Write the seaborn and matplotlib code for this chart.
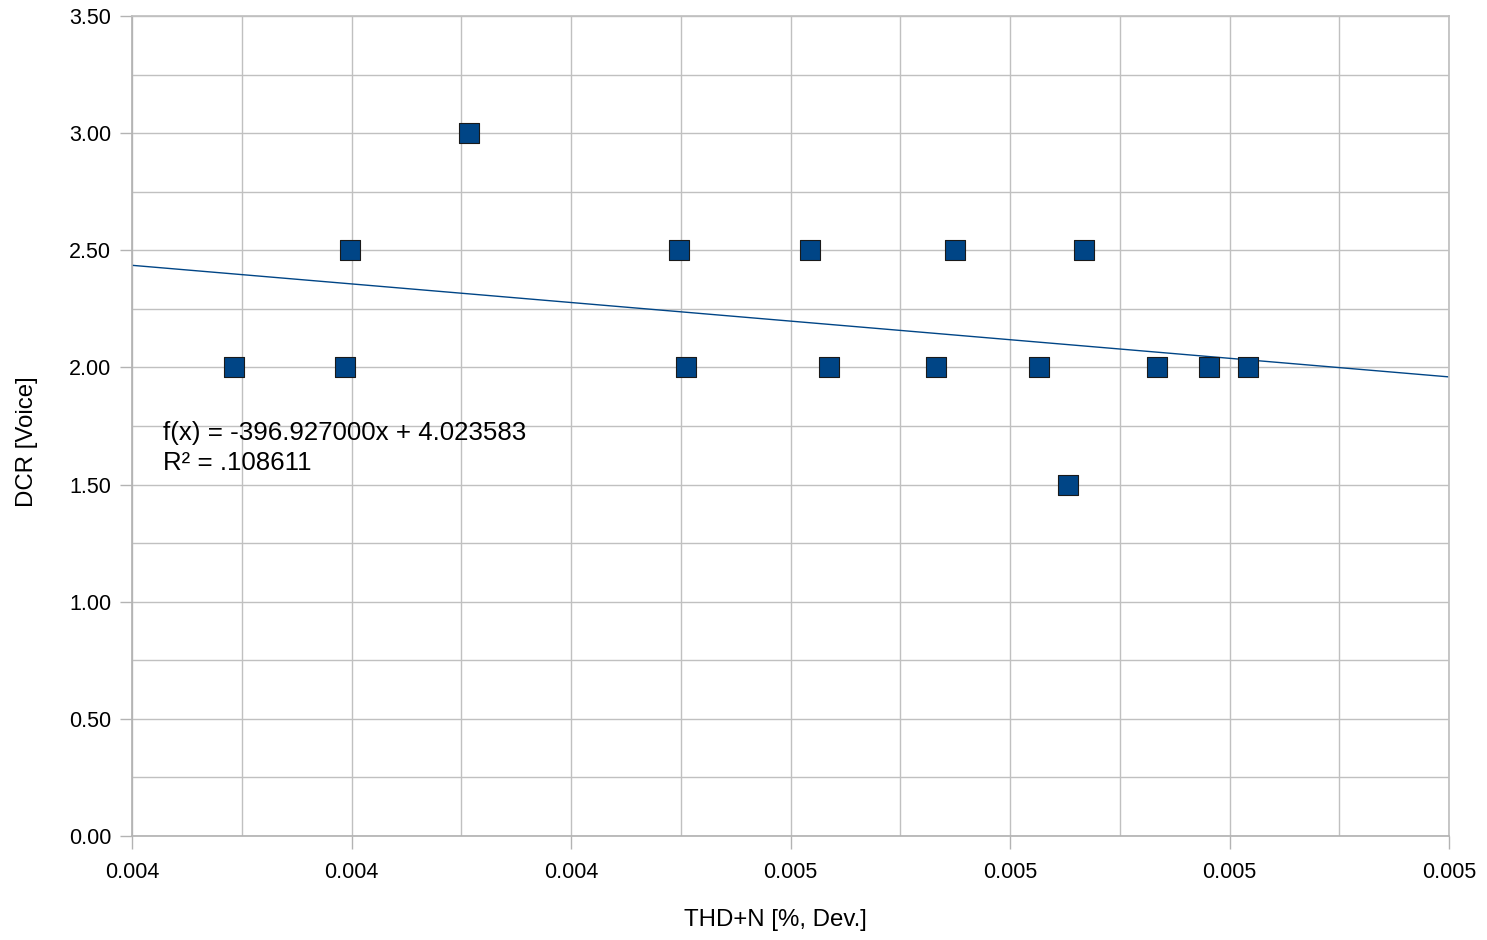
import numpy as np
import pandas as pd
import matplotlib
matplotlib.use("Agg")
import matplotlib.pyplot as plt
import seaborn as sns
from matplotlib.ticker import MultipleLocator, FormatStrFormatter

# values
thd = [0.004093, 0.004194, 0.004199, 0.004307, 0.004498, 0.004505, 0.004618,
       0.004635, 0.004733, 0.004750, 0.004826, 0.004853, 0.004867, 0.004934,
       0.004981, 0.005017]
dcr = [2.0, 2.0, 2.5, 3.0, 2.5, 2.0, 2.5,
       2.0, 2.0, 2.5, 2.0, 1.5, 2.5, 2.0,
       2.0, 2.0]
slope = -396.927000
intercept = 4.023583
r2 = 0.108611
x_range = [0.0040, 0.0052]

df = pd.DataFrame({'THD': thd, 'DCR': dcr})

sns.set_theme(style="white")
plt.rcParams['font.family'] = ['Liberation Sans', 'DejaVu Sans']
plt.rcParams['text.color'] = 'black'

fig = plt.figure(figsize=(14.87, 9.40), dpi=100)
ax = fig.add_axes([132/1487, 1-836/940, (1449-132)/1487, (836-16)/940])

blue = '#004586'
sns.scatterplot(x='THD', y='DCR', data=df, ax=ax, marker='s', s=190,
                color=blue, edgecolor='#1a1a1a', linewidth=0.8, zorder=3)

# trend line from the shown equation
xs = np.array(x_range)
ax.plot(xs, slope * xs + intercept, color=blue, lw=1, zorder=2)

ax.set_xlim(x_range)
ax.set_ylim(0, 3.5)
ax.xaxis.set_major_locator(MultipleLocator(0.0002))
ax.xaxis.set_minor_locator(MultipleLocator(0.0001))
ax.yaxis.set_major_locator(MultipleLocator(0.5))
ax.yaxis.set_minor_locator(MultipleLocator(0.25))
ax.xaxis.set_major_formatter(FormatStrFormatter('%.3f'))
ax.yaxis.set_major_formatter(FormatStrFormatter('%.2f'))

ax.grid(which='both', color='#c0c0c0', lw=1)
ax.set_axisbelow(True)
for side in ['left', 'bottom']:
    ax.spines[side].set_color('#b3b3b3')
for side in ['right', 'top']:
    ax.spines[side].set_color('#c0c0c0')

ax.tick_params(axis='both', which='major', length=9, width=1, color='#b3b3b3',
               labelsize=15.5, labelcolor='black', bottom=True, left=True)
ax.tick_params(axis='both', which='minor', length=0)
ax.tick_params(axis='x', pad=10)
ax.tick_params(axis='y', pad=6)

ax.set_xlabel('')
ax.set_ylabel('')
fig.text(775/1487, 1-920/940, 'THD+N [%, Dev.]', fontsize=17.3,
         color='black', ha='center', va='center')
fig.text(27/1487, 1-442/940, 'DCR [Voice]', fontsize=17.3, rotation=90,
         color='black', ha='center', va='center')

eq = f"f(x) = {slope:.6f}x + {intercept:.6f}\nR² = .{round(r2 * 1e6):06d}"
ax.text(0.004028, 1.54, eq, fontsize=18.6, color='black', linespacing=1.35,
        va='bottom', ha='left')

fig.savefig('out.png', dpi=100)
